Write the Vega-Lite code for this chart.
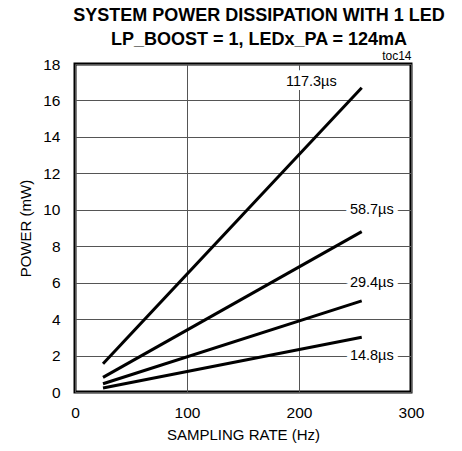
{
  "$schema": "https://vega.github.io/schema/vega-lite/v6.json",
  "autosize": {"type": "none"},
  "padding": {"left": 75, "top": 64, "right": 51, "bottom": 59},
  "width": 336,
  "height": 328,
  "config": {
    "font": "Liberation Sans",
    "view": {"stroke": "#000", "strokeWidth": 3},
    "axis": {"labelFont": "Liberation Sans", "titleFont": "Liberation Sans", "labelColor": "#000", "titleColor": "#000", "titleFontWeight": "normal"}
  },
  "title": {
    "text": ["SYSTEM POWER DISSIPATION WITH 1 LED", "LP_BOOST = 1, LEDx_PA = 124mA"],
    "font": "Liberation Sans",
    "fontSize": 18,
    "fontWeight": "bold",
    "color": "#000",
    "anchor": "middle",
    "dx": 16,
    "offset": 0,
    "lineHeight": 24
  },
  "datasets": {
    "lines": [
      {"series": "117.3us", "rate": 25, "power": 1.55},
      {"series": "117.3us", "rate": 256, "power": 16.7},
      {"series": "58.7us", "rate": 25, "power": 0.8},
      {"series": "58.7us", "rate": 256, "power": 8.8},
      {"series": "29.4us", "rate": 25, "power": 0.45},
      {"series": "29.4us", "rate": 256, "power": 5.0},
      {"series": "14.8us", "rate": 25, "power": 0.22},
      {"series": "14.8us", "rate": 256, "power": 3.0}
    ],
    "labels": [
      {"label": "117.3µs", "rate": 211, "power": 17.0},
      {"label": "58.7µs", "rate": 265, "power": 10},
      {"label": "29.4µs", "rate": 265, "power": 6},
      {"label": "14.8µs", "rate": 265, "power": 2}
    ]
  },
  "resolve": {"axis": {"x": "independent", "y": "independent"}},
  "layer": [
    {
      "data": {"name": "lines"},
      "mark": {"type": "line", "color": "#000", "strokeWidth": 3},
      "encoding": {
        "x": {
          "field": "rate", "type": "quantitative",
          "scale": {"domain": [0, 300], "nice": false},
          "axis": {
            "orient": "bottom",
            "title": "SAMPLING RATE (Hz)", "values": [0, 100, 200, 300],
            "grid": true, "gridColor": "#555", "gridWidth": 1, "gridOpacity": 1,
            "domain": false, "ticks": false, "labelFlush": false,
            "labelFontSize": 15.5, "labelPadding": 13,
            "titleFontSize": 15, "titlePadding": 7
          }
        },
        "y": {
          "field": "power", "type": "quantitative",
          "scale": {"domain": [0, 18], "nice": false},
          "axis": {
            "orient": "left",
            "title": "POWER (mW)", "values": [0, 2, 4, 6, 8, 10, 12, 14, 16, 18],
            "grid": true, "gridColor": "#555", "gridWidth": 1, "gridOpacity": 1,
            "domain": false, "ticks": false, "labelFlush": false,
            "labelFontSize": 15.5, "labelPadding": 15,
            "titleFontSize": 15, "titlePadding": 9
          }
        },
        "detail": {"field": "series"}
      }
    },
    {
      "data": {"name": "labels"},
      "mark": {"type": "text", "fontSize": 14.5, "stroke": "#fff", "strokeWidth": 8, "fill": "#fff"},
      "encoding": {
        "x": {"field": "rate", "type": "quantitative", "axis": {"orient": "top", "title": "toc14", "titleAnchor": "end", "titleFontSize": 12, "titlePadding": 2, "labels": false, "ticks": false, "domain": false, "grid": false}},
        "y": {"field": "power", "type": "quantitative", "axis": null},
        "text": {"field": "label"}
      }
    },
    {
      "data": {"name": "labels"},
      "mark": {"type": "text", "fontSize": 14.5, "color": "#000"},
      "encoding": {
        "x": {"field": "rate", "type": "quantitative", "axis": null},
        "y": {"field": "power", "type": "quantitative", "axis": null},
        "text": {"field": "label"}
      }
    }
  ]
}
